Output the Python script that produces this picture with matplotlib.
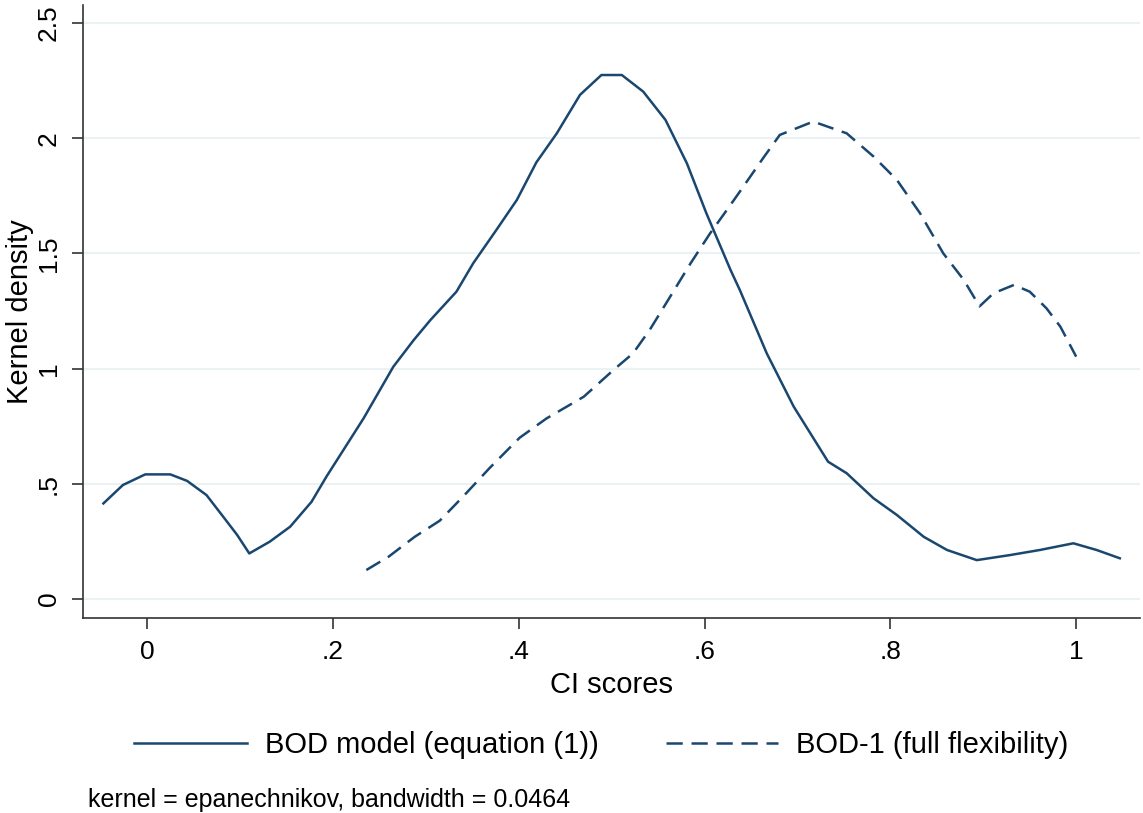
import matplotlib
matplotlib.use("Agg")
import matplotlib.pyplot as plt

plt.rcParams['font.family'] = ['Liberation Sans', 'DejaVu Sans']

# BOD model (equation (1))
bod_x = [-0.047, -0.026, -0.002, 0.025, 0.043, 0.064, 0.082, 0.097, 0.110, 0.132,
         0.154, 0.177, 0.193, 0.233, 0.265, 0.287, 0.305, 0.333, 0.351,
         0.376, 0.398, 0.419, 0.441, 0.466, 0.489, 0.511, 0.534, 0.558, 0.581,
         0.602, 0.628, 0.638, 0.667, 0.696, 0.733, 0.753, 0.782, 0.807, 0.836,
         0.861, 0.893, 0.929, 0.961, 0.997, 1.022, 1.047]
bod_y = [0.415, 0.495, 0.541, 0.541, 0.513, 0.451, 0.357, 0.278, 0.198, 0.249,
         0.314, 0.422, 0.531, 0.784, 1.008, 1.124, 1.211, 1.334, 1.457,
         1.602, 1.732, 1.895, 2.021, 2.188, 2.274, 2.274, 2.202, 2.079, 1.891,
         1.674, 1.428, 1.341, 1.066, 0.835, 0.596, 0.546, 0.437, 0.365, 0.270,
         0.213, 0.169, 0.191, 0.213, 0.242, 0.213, 0.177]

# BOD-1 (full flexibility)
bod1_x = [0.236, 0.260, 0.288, 0.315, 0.339, 0.369, 0.401, 0.430, 0.470, 0.502,
          0.523, 0.541, 0.563, 0.585, 0.606, 0.624, 0.638, 0.663, 0.681, 0.717,
          0.753, 0.782, 0.807, 0.832, 0.857, 0.879, 0.896, 0.911, 0.933, 0.950,
          0.968, 0.983, 1.0]
bod1_y = [0.126, 0.184, 0.27, 0.34, 0.44, 0.57, 0.70, 0.784, 0.878, 0.994,
          1.066, 1.168, 1.312, 1.457, 1.587, 1.688, 1.768, 1.913, 2.014, 2.072,
          2.021, 1.920, 1.819, 1.674, 1.500, 1.385, 1.27, 1.327, 1.363, 1.334,
          1.262, 1.182, 1.052]

xticks = [0, 0.2, 0.4, 0.6, 0.8, 1.0]
xlabels = ['0', '.2', '.4', '.6', '.8', '1']
yticks = [0, 0.5, 1, 1.5, 2, 2.5]
ylabels = ['0', '.5', '1', '1.5', '2', '2.5']

navy = '#1a476f'

fig = plt.figure(figsize=(11.43, 8.13), dpi=100)
ax = fig.add_axes([0.0726, 0.2399, 0.925, 0.754])

for y in yticks:
    ax.axhline(y, color='#eaf2f3', lw=1.5, zorder=0)

ax.plot(bod_x, bod_y, color=navy, lw=1.8, label='BOD model (equation (1))')
ax.plot(bod1_x, bod1_y, color=navy, lw=1.8, dashes=(6.5, 3.5), label='BOD-1 (full flexibility)')

ax.set_xlim(-0.069, 1.069)
ax.set_ylim(-0.082, 2.578)
ax.set_xticks(xticks)
ax.set_xticklabels(xlabels)
ax.set_yticks(yticks)
ax.set_yticklabels(ylabels, rotation=90, va='center')
ax.tick_params(labelsize=19, length=8, width=1.2, color='#333333', pad=8)
for s in ['top', 'right']:
    ax.spines[s].set_visible(False)
for s in ['left', 'bottom']:
    ax.spines[s].set_linewidth(1.2)
    ax.spines[s].set_color('#333333')

ax.set_xlabel('CI scores', fontsize=21, labelpad=5)
ax.set_ylabel('Kernel density', fontsize=21, labelpad=2)

fig.legend(loc='center', bbox_to_anchor=(0.526, 0.0837), ncol=2, frameon=False,
           fontsize=21, handlelength=3.87, handletextpad=0.62, columnspacing=2.3)

fig.text(88 / 1143, 1 - 800 / 813, 'kernel = epanechnikov, bandwidth = 0.0464',
         fontsize=18, va='center', ha='left')

fig.savefig('out.png', dpi=100)
